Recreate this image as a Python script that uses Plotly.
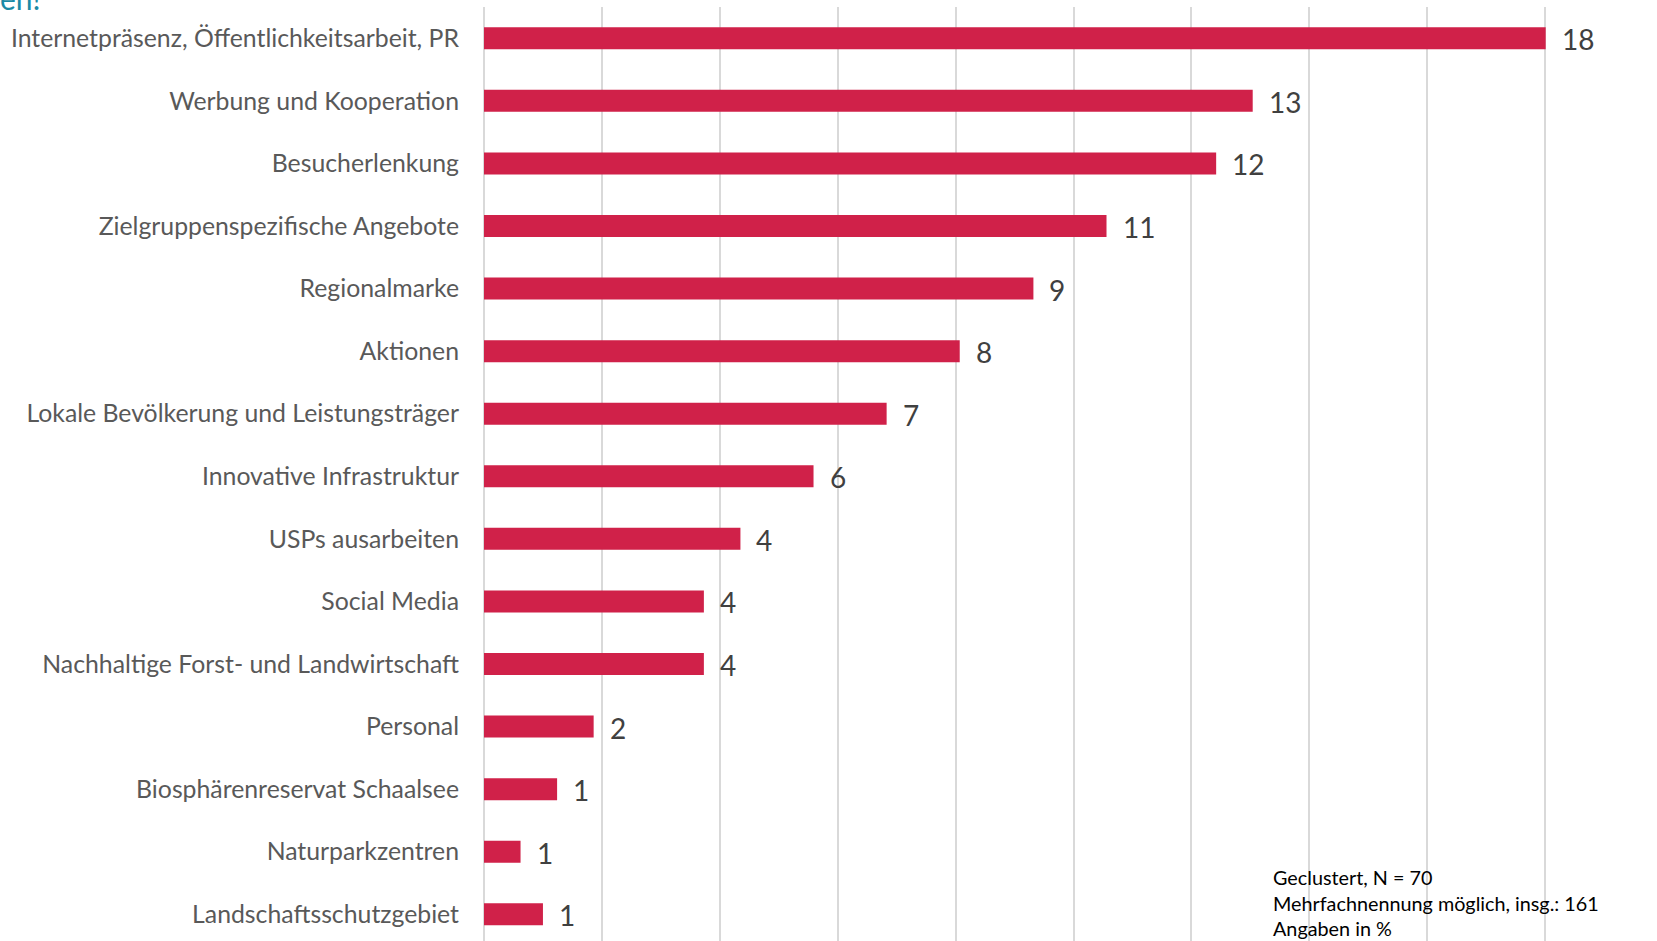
import plotly.graph_objects as go

# Categories (top to bottom) and shares in percent of all mentions
categories = [
    "Internetpräsenz, Öffentlichkeitsarbeit, PR",
    "Werbung und Kooperation",
    "Besucherlenkung",
    "Zielgruppenspezifische Angebote",
    "Regionalmarke",
    "Aktionen",
    "Lokale Bevölkerung und Leistungsträger",
    "Innovative Infrastruktur",
    "USPs ausarbeiten",
    "Social Media",
    "Nachhaltige Forst- und Landwirtschaft",
    "Personal",
    "Biosphärenreservat Schaalsee",
    "Naturparkzentren",
    "Landschaftsschutzgebiet",
]
shares = [18.01, 13.04, 12.42, 10.56, 9.32, 8.07, 6.83, 5.59, 4.35, 3.73, 3.73, 1.86, 1.24, 0.62, 1.00]

footnote_lines = [
    "Geclustert, N = 70",
    "Mehrfachnennung möglich, insg.: 161",
    "Angaben in %",
]
title_tail = "en!"

BAR_COLOR = "#D02149"
GRID_COLOR = "#D9D9D9"
FONT = "Lato"

W, H = 1657, 941
ML, MR, MT, MB = 484, 0, 7, 0
px_per_unit = 58.95
x_max = (W - ML - MR) / px_per_unit
band_px = 62.57
y_span = (H - MT - MB) / band_px
plot_w = W - ML - MR
plot_h = H - MT - MB

fig = go.Figure()
fig.add_trace(go.Bar(
    x=shares,
    y=categories,
    orientation="h",
    marker=dict(color=BAR_COLOR, line=dict(width=0)),
    hoverinfo="skip",
))

# value labels next to each bar, rounded to whole percent
for cat, val in zip(categories, shares):
    fig.add_annotation(
        x=val, y=cat, xref="x", yref="y",
        text=f"{val:.0f}",
        showarrow=False, xanchor="left", yanchor="middle",
        xshift=14, yshift=-1,
        font=dict(family=FONT, size=28, color="#404040"),
    )

# footnote block, bottom right (pixel positions from the top-left corner)
foot_x = 1271
foot_centers = [877, 902.5, 928]
for line, cy in zip(footnote_lines, foot_centers):
    fig.add_annotation(
        x=(foot_x - ML) / plot_w, y=(H - MB - cy) / plot_h,
        xref="paper", yref="paper",
        text=line, showarrow=False,
        xanchor="left", yanchor="middle",
        font=dict(family=FONT, size=19.8, color="#000000"),
    )

# tail of the slide heading above the chart
fig.add_annotation(
    x=0, y=1, xref="paper", yref="paper",
    text=title_tail, showarrow=False,
    xanchor="left", yanchor="bottom",
    xshift=-ML - 2, yshift=-11,
    font=dict(family=FONT, size=30, color="#1B8AA6"),
)

fig.update_layout(
    width=W, height=H,
    margin=dict(l=ML, r=MR, t=MT, b=MB, pad=0),
    paper_bgcolor="white",
    plot_bgcolor="white",
    showlegend=False,
    bargap=1 - 22 / band_px,
    xaxis=dict(
        range=[0, x_max],
        dtick=2, tick0=0,
        showgrid=True, gridcolor=GRID_COLOR, gridwidth=1.5,
        zeroline=True, zerolinecolor=GRID_COLOR, zerolinewidth=2,
        showticklabels=False, ticks="",
        fixedrange=True,
    ),
    yaxis=dict(
        categoryorder="array", categoryarray=categories,
        range=[-0.5 + y_span, -0.5],
        showgrid=False, zeroline=False,
        ticks="", ticklabelstandoff=24,
        tickfont=dict(family=FONT, size=24.8, color="#595959"),
        fixedrange=True,
    ),
)

fig.write_html("out.html", config={"displayModeBar": False})
